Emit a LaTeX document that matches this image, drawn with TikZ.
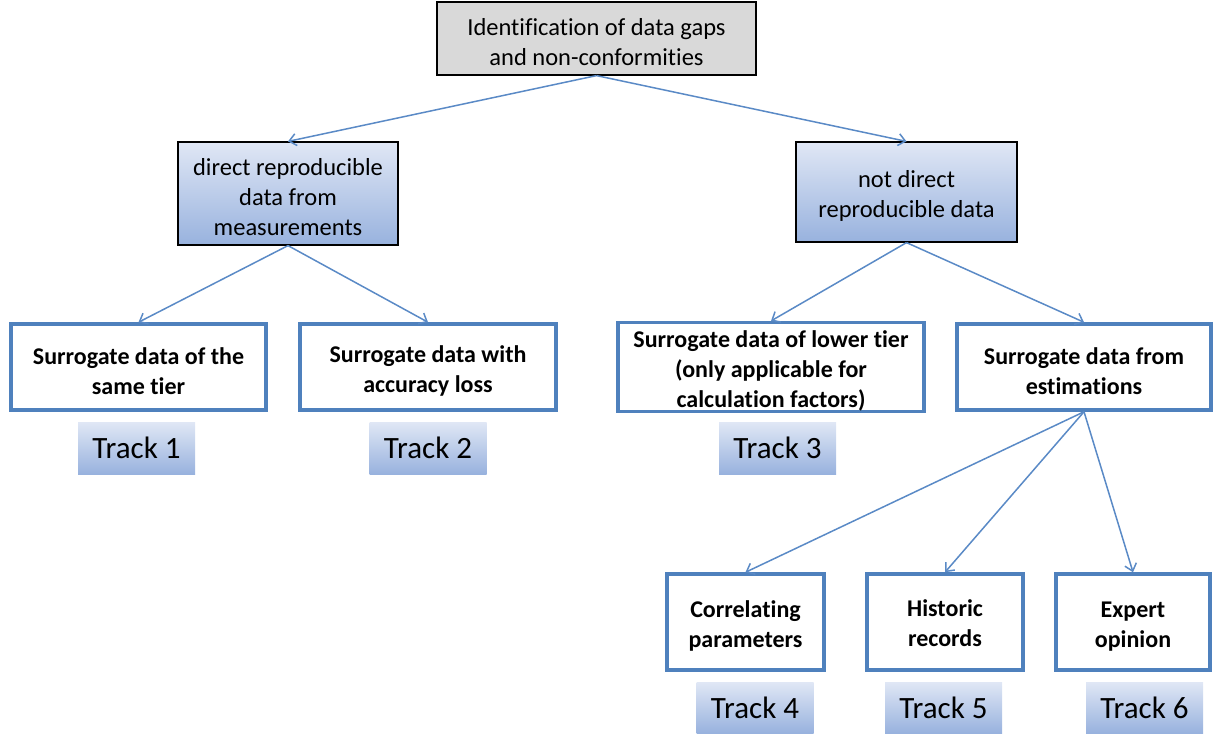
\documentclass[tikz,border=0pt]{standalone}
\usepackage{fontspec}
\setmainfont{Carlito}[Ligatures=NoCommon]
\usetikzlibrary{arrows.meta}
\definecolor{boxblue}{HTML}{4F81BD}
\definecolor{arrowblue}{HTML}{5A8AC6}
\definecolor{gradtop}{HTML}{E0E7F5}
\definecolor{gradbot}{HTML}{98B2DE}
\definecolor{greyfill}{HTML}{D9D9D9}
\newcommand{\myfirststrut}{\rule{0pt}{25pt}}
\newcommand{\mylaststrut}{\rule[-6pt]{0pt}{6pt}}
\tikzset{
  topbox/.style={draw=black, line width=1.2pt, fill=greyfill, inner sep=0pt, align=center,
    font=\fontsize{24.5}{30}\selectfont},
  midbox/.style={draw=black, line width=1.2pt, top color=gradtop, bottom color=gradbot,
    inner sep=0pt, align=center, font=\fontsize{24.5}{30}\selectfont},
  surbox/.style={draw=boxblue, line width=3.5pt, fill=white, inner sep=0pt, align=center,
    font=\fontsize{24}{30}\selectfont\bfseries},
  trackbox/.style={top color=gradtop, bottom color=gradbot, inner sep=0pt,
    minimum width=117pt, minimum height=52pt, font=\fontsize{31}{32}\selectfont},
  conn/.style={draw=arrowblue, line width=1.5pt, -{Straight Barb[length=7pt,width=12pt,line width=1.5pt]}}
}
\begin{document}
\begin{tikzpicture}[x=1pt,y=-1pt]
\useasboundingbox (0,0) rectangle (1214,733);
\node[topbox, minimum width=319pt, minimum height=73pt] (top) at (596.5,38.5)
  {\myfirststrut Identification of data gaps\\and non-conformities};
\node[midbox, minimum width=220pt, minimum height=103pt] (dir) at (288,193.5)
  {\myfirststrut direct reproducible\\data from\\measurements};
\node[midbox, minimum width=221pt, minimum height=100pt] (ndir) at (906.5,192)
  {\myfirststrut not direct\\reproducible data};
\node[surbox, minimum width=255pt, minimum height=86pt] (s1) at (138.5,367)
  {\myfirststrut Surrogate data of the\\same tier};
\node[surbox, minimum width=256pt, minimum height=86pt] (s2) at (428,367)
  {\myfirststrut Surrogate data with\\accuracy loss};
\node[surbox, minimum width=306pt, minimum height=86pt] (s3) at (771,367)
  {\myfirststrut Surrogate data of lower tier\\(only applicable for\\calculation factors)};
\node[surbox, minimum width=254pt, minimum height=86pt] (s4) at (1084,367)
  {\myfirststrut Surrogate data from\\estimations};
\node[surbox, minimum width=157pt, minimum height=96pt] (e1) at (745.5,622)
  {\myfirststrut Correlating\\parameters};
\node[surbox, minimum width=156pt, minimum height=96pt] (e2) at (945,622)
  {\myfirststrut Historic\\records\mylaststrut};
\node[surbox, minimum width=154pt, minimum height=96pt] (e3) at (1133,622)
  {\myfirststrut Expert\\opinion};
\node[trackbox] (t1) at (136.5,448) {Track 1};
\node[trackbox] (t2) at (428,448) {Track 2};
\node[trackbox] (t3) at (777.5,448) {Track 3};
\node[trackbox, minimum height=51pt] (t4) at (755,707.5) {Track 4};
\node[trackbox, minimum height=51pt] (t5) at (943.5,707.5) {Track 5};
\node[trackbox, minimum height=51pt] (t6) at (1144.5,707.5) {Track 6};
\draw[conn] (top.south) -- (dir.north);
\draw[conn] (top.south) -- (ndir.north);
\draw[conn] (dir.south) -- (s1.north);
\draw[conn] (dir.south) -- (s2.north);
\draw[conn] (ndir.south) -- (s3.north);
\draw[conn] (ndir.south) -- (s4.north);
\draw[conn] (s4.south) -- (e1.north);
\draw[conn] (s4.south) -- (e2.north);
\draw[conn] (s4.south) -- (e3.north);
\end{tikzpicture}
\end{document}
